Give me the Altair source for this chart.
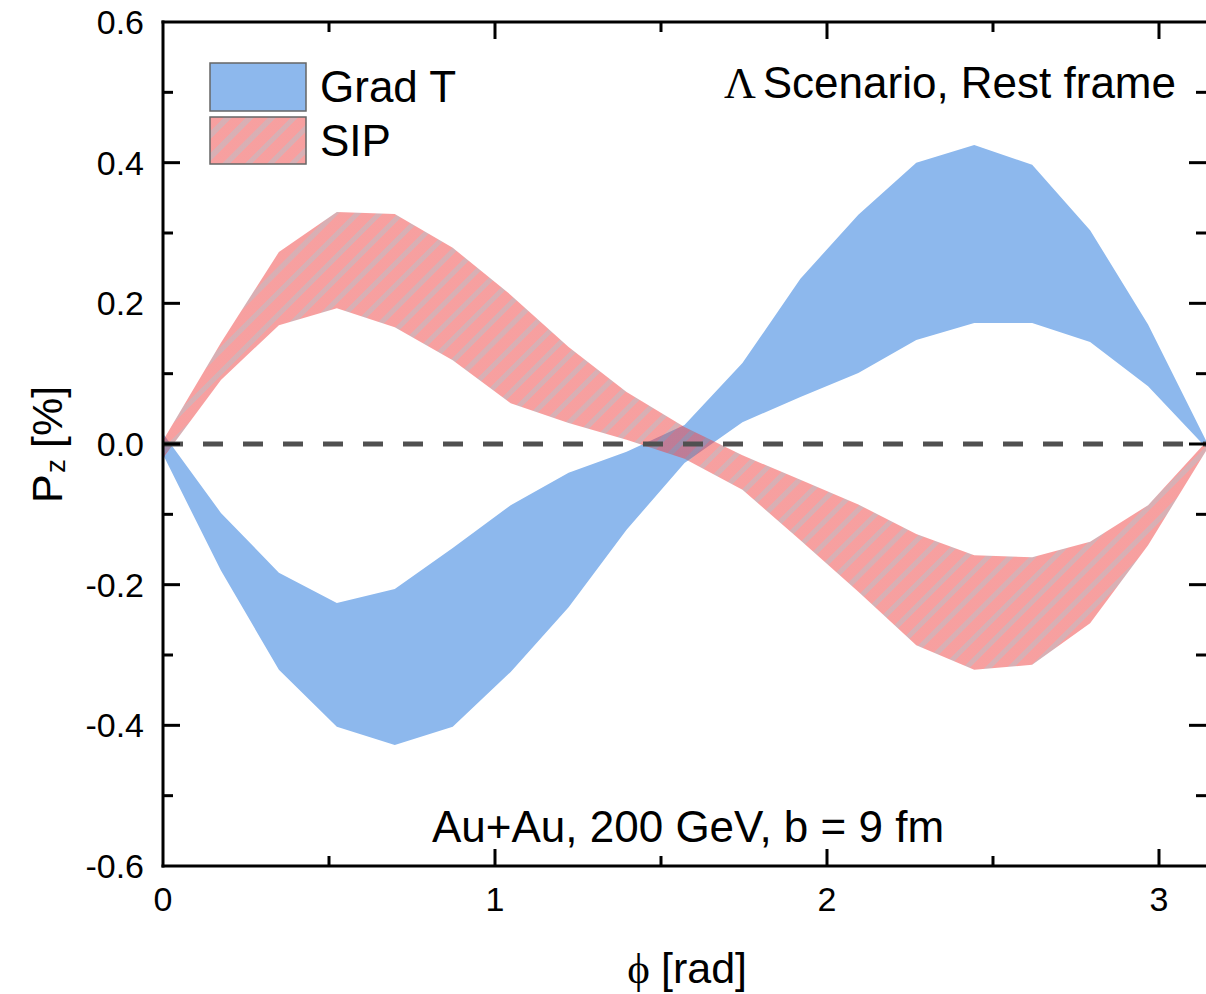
import altair as alt
import pandas as pd
import numpy as np

# ---------------- data ----------------
phi = [0.0, 0.1745, 0.3491, 0.5236, 0.6981, 0.8727, 1.0472, 1.2217, 1.3963, 1.5708,
       1.7453, 1.9199, 2.0944, 2.2689, 2.4435, 2.6180, 2.7925, 2.9671, 3.1416]
gradT_hi = [0.015, -0.098, -0.183, -0.226, -0.206, -0.148, -0.087, -0.041, -0.011, 0.027,
            0.115, 0.235, 0.326, 0.400, 0.425, 0.397, 0.304, 0.170, 0.005]
gradT_lo = [-0.015, -0.180, -0.321, -0.402, -0.428, -0.402, -0.324, -0.232, -0.122, -0.027,
            0.031, 0.067, 0.101, 0.148, 0.172, 0.172, 0.145, 0.082, -0.005]
sip_hi = [0.005, 0.144, 0.273, 0.330, 0.327, 0.279, 0.212, 0.138, 0.074, 0.024,
          -0.016, -0.051, -0.086, -0.128, -0.158, -0.161, -0.139, -0.087, 0.003]
sip_lo = [-0.020, 0.091, 0.169, 0.193, 0.166, 0.119, 0.058, 0.030, 0.006, -0.021,
          -0.065, -0.137, -0.210, -0.286, -0.321, -0.314, -0.255, -0.144, -0.010]

series_names = ["Grad T", "SIP"]
x_ticks_major = [1, 2, 3]
x_ticks_minor = [0.5, 1.5, 2.5]
x_labels = [0, 1, 2, 3]
x_label_text = ["0", "1", "2", "3"]
y_ticks_major = [-0.4, -0.2, 0.0, 0.2, 0.4]
y_ticks_minor = [-0.5, -0.3, -0.1, 0.1, 0.3, 0.5]
y_labels = [-0.6, -0.4, -0.2, 0.0, 0.2, 0.4, 0.6]
y_label_text = ["-0.6", "-0.4", "-0.2", "0.0", "0.2", "0.4", "0.6"]
x_title = ["\u03d5", "[rad]"]
y_title = ["P", "z", "[%]"]
note_top = ["\u039b", "Scenario, Rest frame"]
note_bottom = "Au+Au, 200 GeV, b = 9 fm"

# ---------------- layout / style ----------------
W, H = 1043, 844
X_MAX = float(np.pi)
Y_MIN, Y_MAX = -0.6, 0.6
SANS = "Liberation Sans"
SERIF = "Liberation Serif, DejaVu Serif"
BLUE = "#8DB8ED"
RED = "#EF4141"
STRIPE = "#B1616A"
BIG = 44
TICKFONT = 34

df = pd.DataFrame({"phi": phi, "g_hi": gradT_hi, "g_lo": gradT_lo,
                   "s_hi": sip_hi, "s_lo": sip_lo})

xs = alt.Scale(domain=[0, X_MAX], nice=False, zero=False)
ys = alt.Scale(domain=[Y_MIN, Y_MAX], nice=False, zero=False)


def hatch(box_w, box_h, period_px=22.0, frac=0.32):
    """45deg '/' stripes as a hard-stop linear gradient in bounding-box units."""
    r = box_h / box_w
    k = (1 + r) / (1 + r * r)
    dt = period_px / (box_w * (1 + r))
    stops = []
    t = 0.0
    eps = 1e-4
    while t < 1.0:
        a_end = min(t + dt * (1 - frac), 1.0)
        b_end = min(t + dt, 1.0)
        stops.append({"offset": round(t, 5), "color": RED})
        stops.append({"offset": round(a_end, 5), "color": RED})
        stops.append({"offset": round(min(a_end + eps, 1.0), 5), "color": STRIPE})
        stops.append({"offset": round(b_end, 5), "color": STRIPE})
        t = b_end + eps
    return {"gradient": "linear", "x1": 0, "y1": 0, "x2": round(k, 5), "y2": round(k * r, 5),
            "stops": stops}


sip_w = (max(phi) - min(phi)) / X_MAX * W
sip_h = (max(sip_hi) - min(sip_lo)) / (Y_MAX - Y_MIN) * H

base = alt.Chart(df)

grad_band = base.mark_area(color=BLUE, opacity=1, interpolate="linear").encode(
    x=alt.X("phi:Q", scale=xs, axis=None),
    y=alt.Y("g_lo:Q", scale=ys, axis=None),
    y2="g_hi:Q",
)

sip_band = base.mark_area(fill=hatch(sip_w, sip_h), fillOpacity=0.5, interpolate="linear").encode(
    x=alt.X("phi:Q", scale=xs, axis=None),
    y=alt.Y("s_lo:Q", scale=ys, axis=None),
    y2="s_hi:Q",
)

zero_df = pd.DataFrame({"x": [0.0], "x2": [X_MAX], "y": [0.0]})
zero_line = alt.Chart(zero_df).mark_rule(color="#505050", strokeWidth=5, strokeDash=[20, 20]).encode(
    x=alt.X("x:Q", scale=xs, axis=None), x2="x2:Q", y=alt.Y("y:Q", scale=ys, axis=None)
)


def xticks(vals, length, top):
    d = pd.DataFrame({"v": vals})
    y0, y1 = (0, length) if top else (H, H - length)
    return alt.Chart(d).mark_rule(color="black", strokeWidth=3).encode(
        x=alt.X("v:Q", scale=xs, axis=None), y=alt.value(y0), y2=alt.value(y1))


def yticks(vals, length, right):
    d = pd.DataFrame({"v": vals})
    x0, x1 = (W, W - length) if right else (0, length)
    return alt.Chart(d).mark_rule(color="black", strokeWidth=3).encode(
        y=alt.Y("v:Q", scale=ys, axis=None), x=alt.value(x0), x2=alt.value(x1))


x_lab = alt.Chart(pd.DataFrame({"v": x_labels, "t": x_label_text})).mark_text(
    align="center", baseline="alphabetic", fontSize=TICKFONT, font=SANS, color="black", dy=45
).encode(x=alt.X("v:Q", scale=xs, axis=None), y=alt.value(H), text="t:N")

y_lab = alt.Chart(pd.DataFrame({"v": y_labels, "t": y_label_text})).mark_text(
    align="right", baseline="alphabetic", fontSize=TICKFONT, font=SANS, color="black", dy=12
).encode(y=alt.Y("v:Q", scale=ys, axis=None), x=alt.value(-19), text="t:N")

one = pd.DataFrame({"k": [0]})
frame_left = alt.Chart(one).mark_rule(color="black", strokeWidth=3, strokeCap="square").encode(
    x=alt.value(0), y=alt.value(0), y2=alt.value(H))
frame_top = alt.Chart(one).mark_rule(color="black", strokeWidth=3, strokeCap="square").encode(
    y=alt.value(0), x=alt.value(0), x2=alt.value(W))
frame_bottom = alt.Chart(one).mark_rule(color="black", strokeWidth=3, strokeCap="square").encode(
    y=alt.value(H), x=alt.value(0), x2=alt.value(W))

leg_blue = alt.Chart(one).mark_rect(fill=BLUE, stroke="#666666", strokeWidth=1.5).encode(
    x=alt.value(47), x2=alt.value(143), y=alt.value(41), y2=alt.value(89))
leg_red = alt.Chart(one).mark_rect(fill=hatch(96, 47), fillOpacity=0.5, stroke="#666666",
                                   strokeWidth=1.5).encode(
    x=alt.value(47), x2=alt.value(143), y=alt.value(95), y2=alt.value(142))


def label(txt, x, y, size=BIG, font=SANS, align="left", angle=0):
    d = pd.DataFrame({"t": [txt]})
    return alt.Chart(d).mark_text(align=align, baseline="alphabetic", fontSize=size,
                                  font=font, color="black", angle=angle).encode(
        text="t:N", x=alt.value(x), y=alt.value(y))


texts = [
    label(series_names[0], 157, 80),
    label(series_names[1], 157, 134),
    label(note_top[0], 561, 76, font=SERIF),
    label(note_top[1], 1013, 76, align="right"),
    label(note_bottom, 525, 820, align="center"),
    label(x_title[0], 487, 961, size=43, font=SERIF, align="right"),
    label(x_title[1], 498, 961, size=43),
    label(y_title[0], -101, 481, size=43, angle=270),
    label(y_title[1], -98, 451, size=28, angle=270),
    label(y_title[2], -101, 426, size=43, angle=270),
]

chart = alt.layer(
    grad_band, sip_band, zero_line,
    xticks(x_ticks_major, 17, False), xticks(x_ticks_minor, 10, False),
    xticks(x_ticks_major, 17, True), xticks(x_ticks_minor, 10, True),
    yticks(y_ticks_major, 17, False), yticks(y_ticks_minor, 10, False),
    yticks(y_ticks_major, 17, True), yticks(y_ticks_minor, 10, True),
    frame_left, frame_top, frame_bottom,
    x_lab, y_lab,
    leg_blue, leg_red, *texts,
).properties(
    width=W, height=H,
    autosize=alt.AutoSizeParams(type="none"),
    padding={"left": 163, "top": 22, "right": 0, "bottom": 128},
    background="white",
).configure_view(stroke="transparent")

chart.save("out.html", embed_options={"renderer": "svg", "actions": False})
